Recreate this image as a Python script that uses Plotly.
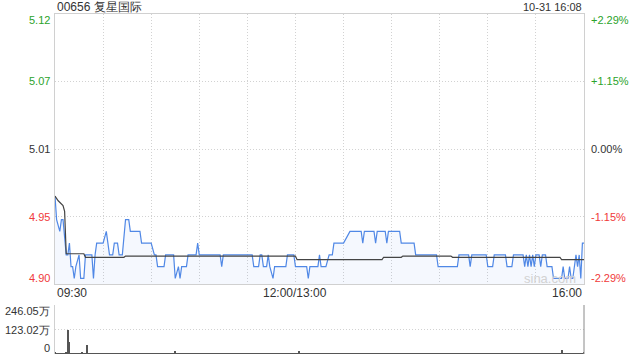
import plotly.graph_objects as go

# ---- data ----
title_text = "00656 复星国际"
time_text = "10-31 16:08"
prev_close = 5.01

price_minutes = [0, 1, 3, 4, 5, 7, 8, 9, 10, 11, 12, 13, 15, 16, 18, 19, 23, 24, 25, 26,
                 30, 32, 33, 34, 36, 37, 39, 40, 42, 44, 46, 47, 53, 54, 60, 62, 63, 64, 68, 69,
                 74, 75, 77, 78, 79, 82, 83, 88, 89, 90, 103, 104, 105, 123, 124, 127, 128, 129, 130, 132,
                 133, 134, 136, 137, 144, 145, 149, 150, 157, 158, 159, 164, 165, 166, 169, 171, 173, 174, 180, 184,
                 191, 192, 193, 199, 200, 201, 206, 207, 208, 215, 216, 224, 225, 238, 239, 251, 252, 258, 259, 260,
                 269, 270, 273, 274, 281, 282, 285, 286, 292, 293, 294, 295, 296, 297, 298, 299, 300, 302, 303, 304,
                 306, 307, 310, 311, 316, 317, 318, 320, 321, 322, 323, 324, 325, 326, 327, 328, 329, 330]
price_values = [4.97, 4.95, 4.94, 4.95, 4.95, 4.92, 4.92, 4.93, 4.91, 4.91, 4.90, 4.91, 4.92, 4.90, 4.90, 4.92, 4.92, 4.90, 4.92, 4.93,
                4.93, 4.94, 4.93, 4.92, 4.92, 4.93, 4.93, 4.92, 4.92, 4.95, 4.95, 4.94, 4.94, 4.93, 4.93, 4.92, 4.92, 4.91, 4.91, 4.92,
                4.92, 4.90, 4.91, 4.90, 4.91, 4.91, 4.92, 4.92, 4.93, 4.92, 4.92, 4.91, 4.92, 4.92, 4.91, 4.91, 4.92, 4.92, 4.91, 4.91,
                4.92, 4.91, 4.90, 4.91, 4.91, 4.92, 4.92, 4.91, 4.91, 4.90, 4.91, 4.91, 4.92, 4.91, 4.91, 4.92, 4.92, 4.93, 4.93, 4.94,
                4.94, 4.93, 4.94, 4.94, 4.93, 4.94, 4.94, 4.93, 4.94, 4.94, 4.93, 4.93, 4.92, 4.92, 4.91, 4.91, 4.92, 4.92, 4.91, 4.92,
                4.92, 4.91, 4.91, 4.92, 4.92, 4.91, 4.91, 4.92, 4.92, 4.91, 4.92, 4.91, 4.92, 4.91, 4.92, 4.91, 4.92, 4.92, 4.91, 4.92,
                4.92, 4.91, 4.91, 4.90, 4.90, 4.91, 4.90, 4.90, 4.91, 4.90, 4.90, 4.91, 4.92, 4.91, 4.92, 4.90, 4.93, 4.93]

avg_minutes = [0, 2, 5, 6, 7, 18, 19, 43, 44, 150, 151, 204, 205, 216, 217, 247, 248, 315, 316, 330]
avg_values = [4.970, 4.966, 4.962, 4.957, 4.921, 4.921, 4.918, 4.918, 4.919, 4.919, 4.916, 4.916, 4.918, 4.918,
              4.919, 4.919, 4.918, 4.918, 4.916, 4.916]

# volume per minute, in 万
volume = [6, 3, 4, 2, 5, 3, 2, 8, 123, 62, 4, 3, 5, 2, 3, 4, 2, 6, 3, 5, 45, 3, 2, 4, 3, 2, 5, 3, 2, 4,
          3, 2, 4, 3, 2, 3, 5, 2, 3, 2, 4, 3, 2, 3, 2, 4, 3, 2, 3, 2, 3, 4, 2, 3, 2, 3, 2, 4, 3, 2,
          2, 3, 2, 4, 3, 2, 3, 2, 3, 2, 4, 3, 2, 3, 2, 17, 3, 2, 3, 2, 4, 3, 2, 3, 2, 3, 2, 4, 3, 2,
          3, 2, 3, 2, 4, 3, 2, 3, 2, 3, 2, 3, 4, 2, 3, 2, 3, 2, 3, 2, 4, 3, 2, 3, 2, 3, 2, 3, 2, 3,
          2, 3, 2, 4, 3, 2, 3, 2, 3, 2, 3, 2, 4, 3, 2, 3, 2, 3, 2, 3, 2, 4, 3, 2, 3, 2, 3, 2, 3, 4,
          5, 3, 17, 3, 2, 4, 3, 2, 3, 2, 3, 2, 4, 3, 2, 3, 2, 3, 2, 3, 4, 2, 3, 2, 3, 2, 3, 4, 2, 3,
          2, 3, 2, 3, 4, 2, 3, 2, 3, 2, 3, 4, 2, 3, 2, 3, 2, 3, 2, 4, 3, 2, 3, 2, 3, 2, 3, 4, 2, 3,
          2, 3, 2, 3, 4, 2, 3, 2, 3, 2, 3, 2, 4, 3, 2, 3, 2, 3, 2, 3, 4, 2, 3, 2, 3, 2, 3, 2, 4, 3,
          2, 3, 2, 3, 2, 4, 3, 2, 3, 2, 3, 2, 3, 4, 2, 3, 2, 3, 2, 3, 2, 4, 3, 2, 3, 2, 3, 2, 3, 4,
          2, 3, 2, 3, 2, 3, 4, 2, 3, 2, 3, 2, 3, 2, 4, 3, 2, 3, 2, 3, 2, 3, 4, 2, 3, 2, 3, 2, 3, 4,
          3, 2, 3, 2, 4, 3, 2, 3, 2, 3, 4, 3, 2, 3, 4, 3, 20, 3, 2, 4, 3, 2, 3, 4, 2, 3, 4, 3, 5, 4, 11]

price_ticks = [5.1247, 5.0676, 5.01, 4.9524, 4.8953]
price_tick_labels = ["5.12", "5.07", "5.01", "4.95", "4.90"]
pct_tick_labels = ["+2.29%", "+1.15%", "0.00%", "-1.15%", "-2.29%"]
vol_ticks = [246.05, 123.02, 0]
vol_tick_labels = ["246.05万", "123.02万", "0"]
x_tick_pos = [0, 150, 330]
x_tick_labels = ["09:30", "12:00/13:00", "16:00"]
session_minutes = 330

GREEN = "#2ba32b"
RED = "#f03a3a"
DARK = "#333333"
FONT = "Liberation Sans, Arial, sans-serif"
GRID_DASH = "1px,2px"
GRID_COLOR = "#d2d2d2"
label_colors = [GREEN, GREEN, DARK, RED, RED]

fig = go.Figure()
fig.add_trace(go.Scatter(x=price_minutes, y=price_values, mode="lines",
                         line=dict(color="#5088e6", width=1.2),
                         fill="tozeroy", fillcolor="rgba(80,136,230,0.06)",
                         xaxis="x", yaxis="y", hoverinfo="skip"))
fig.add_trace(go.Scatter(x=avg_minutes, y=avg_values, mode="lines",
                         line=dict(color="#444444", width=1.2),
                         xaxis="x", yaxis="y", hoverinfo="skip"))
fig.add_trace(go.Bar(x=list(range(len(volume))), y=volume, width=0.6,
                     marker=dict(color="#555555", line=dict(width=0)),
                     xaxis="x2", yaxis="y2", hoverinfo="skip"))

fig.update_layout(
    width=640, height=360, autosize=False,
    margin=dict(l=55, r=56, t=14, b=6),
    paper_bgcolor="white", plot_bgcolor="white",
    showlegend=False,
    font=dict(family=FONT, size=11, color=DARK),
    xaxis=dict(domain=[0, 1], range=[0, session_minutes], tickvals=list(range(0, session_minutes + 1, 30)),
               showticklabels=False, showgrid=True, gridcolor=GRID_COLOR, griddash=GRID_DASH, gridwidth=1,
               showline=True, mirror=True, linecolor="#d0d0d0", linewidth=1, zeroline=False, ticks="",
               anchor="y"),
    yaxis=dict(domain=[0.2059, 1], range=[price_ticks[-1], price_ticks[0]], tickvals=price_ticks,
               showticklabels=False, showgrid=True, gridcolor=GRID_COLOR, griddash=GRID_DASH, gridwidth=1,
               showline=True, mirror=True, linecolor="#d0d0d0", linewidth=1, zeroline=False, ticks="",
               anchor="x"),
    xaxis2=dict(domain=[0, 1], range=[0, session_minutes], matches="x", showticklabels=False,
                showgrid=False, showline=False, zeroline=False, ticks="", anchor="y2"),
    yaxis2=dict(domain=[0, 0.1441], range=[0, vol_ticks[0]], tickvals=vol_ticks, showticklabels=False,
                showgrid=True, gridcolor=GRID_COLOR, griddash=GRID_DASH, gridwidth=1,
                showline=True, linecolor="#d0d0d0", linewidth=1, zeroline=False, ticks="", anchor="x2"),
    bargap=0,
)

# right border of volume panel
fig.add_shape(type="line", xref="x2 domain", yref="y2 domain", x0=1, x1=1, y0=0, y1=1,
              line=dict(color="#8a8a8a", width=1))

ann = []
ann.append(dict(text=title_text, xref="paper", yref="paper", x=0, y=1.0206, xanchor="left", yanchor="middle",
                showarrow=False, font=dict(size=12, color=DARK)))
ann.append(dict(text=time_text, xref="paper", yref="paper", x=1, y=1.0206, xanchor="right", yanchor="middle",
                showarrow=False, font=dict(size=11, color=DARK)))
n = len(price_ticks)
for i, (v, lab, pct) in enumerate(zip(price_ticks, price_tick_labels, pct_tick_labels)):
    ys = -6 if i == 0 else (6 if i == n - 1 else 0)
    ann.append(dict(text=lab, xref="paper", yref="y", x=0, y=v, xanchor="right", yanchor="middle",
                    xshift=-3, yshift=ys, showarrow=False, font=dict(size=11, color=label_colors[i])))
    ann.append(dict(text=pct, xref="paper", yref="y", x=1, y=v, xanchor="left", yanchor="middle",
                    xshift=5, yshift=ys, showarrow=False, font=dict(size=11, color=label_colors[i])))
for i, (v, lab) in enumerate(zip(vol_ticks, vol_tick_labels)):
    ys = -6 if i == 0 else (6 if i == len(vol_ticks) - 1 else 0)
    ann.append(dict(text=lab, xref="paper", yref="y2", x=0, y=v, xanchor="right", yanchor="middle",
                    xshift=-3, yshift=ys, showarrow=False, font=dict(size=11, color=DARK)))
anchors = ["left", "center", "right"]
for pos, lab, a in zip(x_tick_pos, x_tick_labels, anchors):
    ann.append(dict(text=lab, xref="x", yref="paper", x=pos, y=0.1794, xanchor=a, yanchor="middle",
                    showarrow=False, font=dict(size=12, color=DARK)))
ann.append(dict(text="sina.com", xref="paper", yref="y", x=0.936, y=price_ticks[-1], xanchor="center",
                yanchor="middle", yshift=5, showarrow=False, font=dict(size=13, color="#d2d2d2")))
fig.update_layout(annotations=ann)

fig.write_html("out.html")
